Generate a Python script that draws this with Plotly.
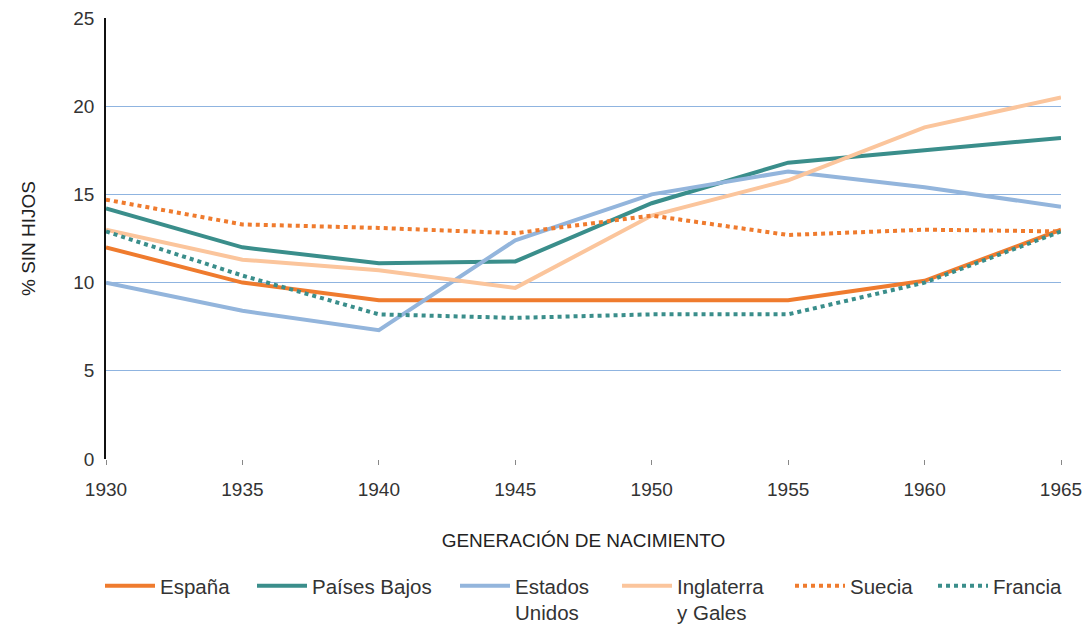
import plotly.graph_objects as go

years = [1930, 1935, 1940, 1945, 1950, 1955, 1960, 1965]

espana = [12.0, 10.0, 9.0, 9.0, 9.0, 9.0, 10.1, 13.0]
paises_bajos = [14.2, 12.0, 11.1, 11.2, 14.5, 16.8, 17.5, 18.2]
estados_unidos = [10.0, 8.4, 7.3, 12.4, 15.0, 16.3, 15.4, 14.3]
inglaterra = [13.0, 11.3, 10.7, 9.7, 13.8, 15.8, 18.8, 20.5]
suecia = [14.7, 13.3, 13.1, 12.8, 13.8, 12.7, 13.0, 12.9]
francia = [12.9, 10.4, 8.2, 8.0, 8.2, 8.2, 10.0, 12.9]

series_names = ["España", "Países Bajos", "Estados<br>Unidos", "Inglaterra<br>y Gales", "Suecia", "Francia"]
series_values = [espana, paises_bajos, estados_unidos, inglaterra, suecia, francia]
series_colors = ["#ef7b2e", "#3a8e8b", "#93b5dc", "#fbc59c", "#ef7b2e", "#3a8e8b"]
series_dash = ["solid", "solid", "solid", "solid", "dot", "dot"]

y_ticks = [0, 5, 10, 15, 20, 25]

# legend placement (pixel x of each legend item start)
W, H = 1088, 627
ML, MR, MT, MB = 106, 27, 18, 168
legend_px = [100, 252, 455, 617, 790, 933]

fig = go.Figure()
legend_ids = ["legend", "legend2", "legend3", "legend4", "legend5", "legend6"]
for name, vals, col, dash, lid in zip(series_names, series_values, series_colors, series_dash, legend_ids):
    fig.add_trace(go.Scatter(
        x=years, y=vals, mode="lines", name=name,
        line=dict(color=col, width=4, dash=dash),
        legend=lid, hoverinfo="x+y+name",
    ))

pw = W - ML - MR
ph = H - MT - MB
layout_legends = {}
for lid, px in zip(legend_ids, legend_px):
    layout_legends[lid] = dict(
        x=(px - ML) / pw, xanchor="left",
        y=-(566 - (H - MB)) / ph, yanchor="top",
        orientation="h", valign="top",
        font=dict(family="Liberation Sans, Arial, sans-serif", size=20.5, color="#333333"),
        bgcolor="rgba(0,0,0,0)", itemwidth=50,
        itemclick=False, itemdoubleclick=False,
    )

fig.update_layout(
    width=W, height=H,
    margin=dict(l=ML, r=MR, t=MT, b=MB, autoexpand=False),
    paper_bgcolor="white", plot_bgcolor="white",
    font=dict(family="Liberation Sans, Arial, sans-serif", color="#333333"),
    showlegend=True,
    xaxis=dict(
        range=[1930, 1965], tickvals=years, ticktext=[str(y) for y in years],
        showgrid=False, zeroline=False, showline=False,
        ticks="outside", ticklen=5, tickcolor="#888888", tickwidth=1,
        tickfont=dict(size=19, color="#333333"), ticklabelstandoff=8,
        title=dict(text="GENERACIÓN DE NACIMIENTO", font=dict(size=19, color="#222222"), standoff=34),
        automargin=False, fixedrange=True,
    ),
    yaxis=dict(
        range=[0, 25], tickvals=y_ticks, ticktext=[str(v) for v in y_ticks],
        showgrid=True, gridcolor="#8fb4e0", gridwidth=1,
        zeroline=True, zerolinecolor="#ffffff", zerolinewidth=2,
        showline=True, linecolor="#111111", linewidth=1.5,
        ticks="", tickfont=dict(size=19, color="#333333"), ticklabelstandoff=6,
        title=dict(text="% SIN HIJOS", font=dict(size=19, color="#222222"), standoff=33),
        automargin=False, fixedrange=True,
    ),
    **layout_legends,
)

fig.write_html(
    "out.html",
    config={"displayModeBar": False},
    post_script="document.body.style.margin='0';document.body.style.padding='0';",
)
